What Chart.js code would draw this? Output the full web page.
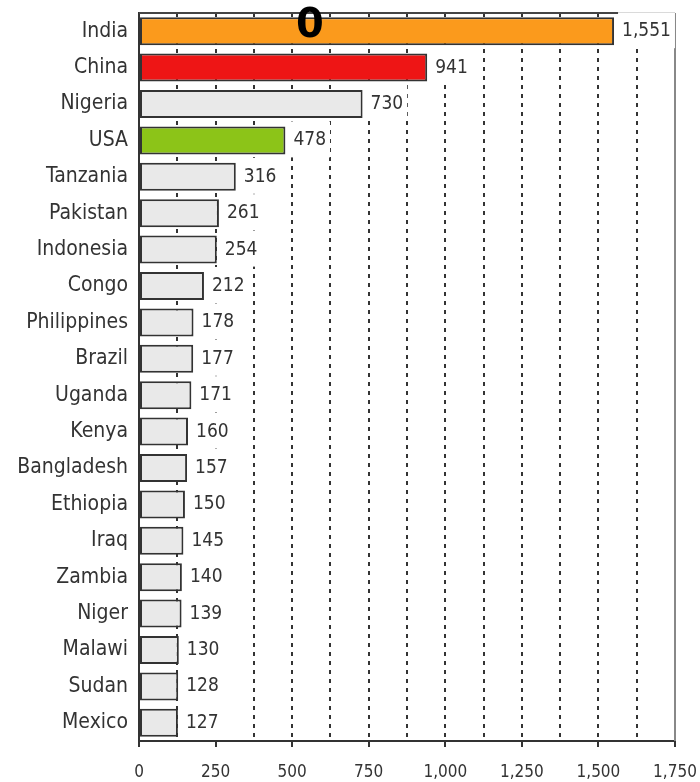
<!DOCTYPE html>
<html>
<head>
<meta charset="utf-8">
<script src="https://cdn.jsdelivr.net/npm/chart.js@4.4.1/dist/chart.umd.min.js"></script>
<style>
  html, body { margin: 0; padding: 0; background: #fff; }
  #wrap { width: 700px; height: 782px; position: relative; }
</style>
</head>
<body>
<div id="wrap"><canvas id="myChart"></canvas></div>
<script>
const countries = ['India', 'China', 'Nigeria', 'USA', 'Tanzania', 'Pakistan', 'Indonesia', 'Congo',
	'Philippines', 'Brazil', 'Uganda', 'Kenya', 'Bangladesh', 'Ethiopia', 'Iraq', 'Zambia',
	'Niger', 'Malawi', 'Sudan', 'Mexico'];
const values = [1551, 941, 730, 478, 316, 261, 254, 212, 178, 177, 171, 160, 157, 150, 145, 140, 139, 130, 128, 127];
const barColors = ['#fb9a1c', '#ee1515', '#e9e9e9', '#8cc418'];
const xTicks = [0, 250, 500, 750, 1000, 1250, 1500, 1750];
const stampText = '0';

const FONT = '"DejaVu Sans Condensed", "DejaVu Sans", sans-serif';

document.addEventListener('DOMContentLoaded', function () {
	const ctx = document.getElementById('myChart').getContext('2d');

	const fills = countries.map((c, i) => barColors[i] || '#e9e9e9');

	const labelsPlugin = {
		id: 'valueLabels',
		beforeDatasetsDraw(chart) {
			const c = chart.ctx;
			const area = chart.chartArea;
			// top and right frame
			c.save();
			c.lineWidth = 2;
			c.strokeStyle = '#444';
			c.beginPath();
			c.moveTo(area.left, area.top);
			c.lineTo(area.right, area.top);
			c.stroke();
			c.strokeStyle = '#888';
			c.beginPath();
			c.moveTo(area.right, area.top);
			c.lineTo(area.right, area.bottom);
			c.stroke();
			// white boxes behind value labels
			c.font = '19px ' + FONT;
			const meta = chart.getDatasetMeta(0);
			meta.data.forEach((bar, i) => {
				const txt = values[i].toLocaleString('en-US');
				const w = c.measureText(txt).width;
				const x = bar.x + 8;
				c.fillStyle = '#fff';
				c.fillRect(x - 4, bar.y - 19, w + 8, 36);
			});
			c.restore();
		},
		afterDatasetsDraw(chart) {
			const c = chart.ctx;
			c.save();
			c.font = '19px ' + FONT;
			c.fillStyle = '#333';
			c.textBaseline = 'middle';
			c.textAlign = 'left';
			const meta = chart.getDatasetMeta(0);
			meta.data.forEach((bar, i) => {
				c.fillText(values[i].toLocaleString('en-US'), bar.x + 8, bar.y);
			});
			// stray bold "0" near the top
			c.font = 'bold 40px "DejaVu Sans", sans-serif';
			c.fillStyle = '#000';
			c.textAlign = 'center';
			c.textBaseline = 'alphabetic';
			c.fillText(stampText, 310, 37);
			c.restore();
		}
	};

	new Chart(ctx, {
		type: 'bar',
		data: {
			labels: countries,
			datasets: [
				{
					data: values,
					backgroundColor: fills,
					borderColor: '#333',
					borderWidth: 2,
					borderSkipped: false,
					barPercentage: 0.77,
					categoryPercentage: 1,
				},
			],
		},
		options: {
			indexAxis: 'y',
			responsive: true,
			maintainAspectRatio: false,
			animation: false,
			layout: {
				padding: { left: 0, right: 25, top: 13, bottom: 0 }
			},
			plugins: {
				legend: { display: false },
				tooltip: { enabled: false },
			},
			scales: {
				x: {
					min: 0,
					max: 1750,
					afterFit(scale) {
						scale.height = 41;
						scale.paddingLeft = 0;
						scale.paddingRight = 0;
					},
					afterBuildTicks(scale) {
						const t = [];
						for (let v = 0; v <= 1750; v += 125) t.push({ value: v });
						scale.ticks = t;
					},
					ticks: {
						autoSkip: false,
						maxRotation: 0,
						padding: 15,
						color: '#333',
						font: { family: FONT, size: 17 },
						callback: (v) => xTicks.includes(v) ? v.toLocaleString('en-US') : '',
					},
					grid: {
						color: (c) => (c.tick && (c.tick.value === 0 || c.tick.value === 1750)) ? 'rgba(0,0,0,0)' : '#333',
						lineWidth: 2,
						tickColor: (c) => (c.tick && xTicks.includes(c.tick.value)) ? '#333' : 'rgba(0,0,0,0)',
						tickLength: 6,
						tickWidth: 2,
					},
					border: {
						display: true,
						color: '#333',
						width: 2,
						dash: [4, 5],
					},
				},
				y: {
					afterFit(scale) {
						scale.width = 139;
						scale.paddingTop = 0;
						scale.paddingBottom = 0;
					},
					ticks: {
						color: '#333',
						padding: 11,
						font: { family: FONT, size: 21 },
					},
					grid: { display: false, drawTicks: false },
					border: { display: true, color: '#333', width: 2 },
				},
			},
		},
		plugins: [labelsPlugin],
	});
});
</script>
</body>
</html>
